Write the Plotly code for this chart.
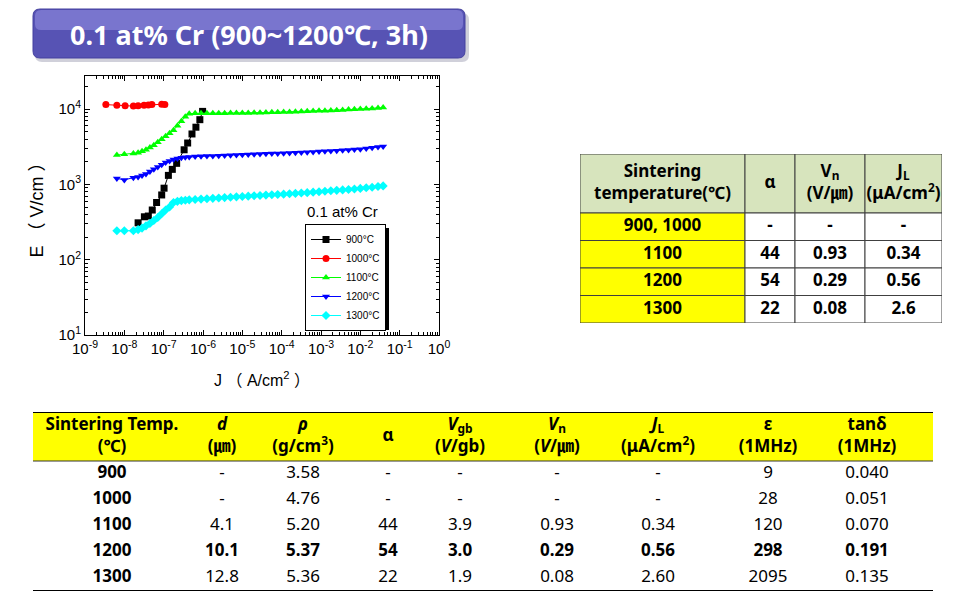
import plotly.graph_objects as go

# ---- E-J data (log10 values) ----
logj_900 = [-7.65, -7.49, -7.39, -7.29, -7.18, -7.05, -6.99, -6.88, -6.78, -6.67,
            -6.48, -6.39, -6.28, -6.18, -6.08, -6.01]
loge_900 = [2.49, 2.57, 2.58, 2.66, 2.76, 2.86, 2.95, 3.12, 3.20, 3.28,
            3.46, 3.55, 3.67, 3.76, 3.86, 3.97]

logj_1000 = [-8.47, -8.19, -7.98, -7.77, -7.65, -7.50, -7.39, -7.30, -7.05, -6.97]
loge_1000 = [4.060, 4.050, 4.045, 4.040, 4.045, 4.050, 4.055, 4.060, 4.065, 4.060]

# shared current sweep for 1100 / 1200 / 1300 C
logj_sweep = [-8.19, -8.00,
              -7.77, -7.65, -7.55, -7.45, -7.35, -7.25, -7.15, -7.05, -6.95, -6.85,
              -6.75, -6.65, -6.55, -6.45, -6.35,
              -6.20, -6.05, -5.90, -5.75, -5.60, -5.45, -5.30, -5.15, -5.00, -4.85,
              -4.70, -4.55, -4.40, -4.25, -4.10, -3.95, -3.80, -3.65, -3.50, -3.35,
              -3.20, -3.05, -2.90, -2.75, -2.60, -2.45, -2.30, -2.15, -2.00, -1.85,
              -1.70, -1.55, -1.42]

loge_1100 = [3.39, 3.40,
             3.41, 3.42, 3.44, 3.46, 3.49, 3.52, 3.56, 3.60, 3.64, 3.68,
             3.72, 3.78, 3.84, 3.90, 3.94,
             3.945, 3.945, 3.945, 3.945, 3.945, 3.946, 3.947, 3.948, 3.949, 3.950,
             3.951, 3.953, 3.955, 3.957, 3.959, 3.961, 3.963, 3.966, 3.968, 3.971,
             3.974, 3.977, 3.980, 3.983, 3.986, 3.990, 3.994, 3.998, 4.002, 4.006,
             4.010, 4.015, 4.020]

loge_1200 = [3.08, 3.06,
             3.09, 3.10, 3.12, 3.14, 3.17, 3.20, 3.23, 3.26, 3.29, 3.31,
             3.33, 3.345, 3.355, 3.36, 3.365,
             3.370, 3.373, 3.376, 3.379, 3.382, 3.385, 3.388, 3.391, 3.394, 3.397,
             3.400, 3.403, 3.406, 3.409, 3.412, 3.415, 3.418, 3.421, 3.424, 3.428,
             3.432, 3.436, 3.440, 3.444, 3.448, 3.453, 3.458, 3.463, 3.468, 3.476,
             3.486, 3.497, 3.505]

loge_1300 = [2.385, 2.385,
             2.385, 2.40, 2.42, 2.45, 2.48, 2.52, 2.56, 2.61, 2.66, 2.70,
             2.76, 2.775, 2.785, 2.79, 2.795,
             2.800, 2.805, 2.810, 2.815, 2.820, 2.825, 2.830, 2.835, 2.840, 2.844,
             2.849, 2.853, 2.858, 2.862, 2.867, 2.871, 2.876, 2.881, 2.886, 2.891,
             2.897, 2.903, 2.909, 2.915, 2.921, 2.927, 2.933, 2.940, 2.947, 2.955,
             2.963, 2.972, 2.980]

series_names = ["900°C", "1000°C", "1100°C", "1200°C", "1300°C"]
series_logj = [logj_900, logj_1000, logj_sweep, logj_sweep, logj_sweep]
series_loge = [loge_900, loge_1000, loge_1100, loge_1200, loge_1300]
series_colors = ["#000000", "#FF0000", "#00FF00", "#0000FF", "#00FFFF"]
series_symbols = ["square", "circle", "triangle-up", "triangle-down", "diamond"]

x_tickvals = [1e-9, 1e-8, 1e-7, 1e-6, 1e-5, 1e-4, 1e-3, 1e-2, 1e-1, 1]
x_ticktext = ["10<sup>-9</sup>", "10<sup>-8</sup>", "10<sup>-7</sup>", "10<sup>-6</sup>",
              "10<sup>-5</sup>", "10<sup>-4</sup>", "10<sup>-3</sup>", "10<sup>-2</sup>",
              "10<sup>-1</sup>", "10<sup>0</sup>"]
y_tickvals = [10, 100, 1000, 10000]
y_ticktext = ["10<sup>1</sup>", "10<sup>2</sup>", "10<sup>3</sup>", "10<sup>4</sup>"]

# ---- small table (right) ----
small_header = ["Sintering<br>temperature(℃)", "α", "V<sub>n</sub><br>(V/㎛)",
                "J<sub>L</sub><br>(μA/cm<sup>2</sup>)"]
small_temp = ["900, 1000", "1100", "1200", "1300"]
small_alpha = ["-", "44", "54", "22"]
small_vn = ["-", "0.93", "0.29", "0.08"]
small_jl = ["-", "0.34", "0.56", "2.6"]
small_col_w = [165, 50, 70, 77]
small_row_h = [59, 27.5, 27.5, 27.5, 27.5]

# ---- big table (bottom) ----
big_header = ["Sintering Temp.<br>(℃)", "<i>d</i><br>(㎛)", "<i>ρ</i><br>(g/cm<sup>3</sup>)",
              "α", "<i>V</i><sub>gb</sub><br>(<i>V</i>/gb)", "<i>V</i><sub>n</sub><br>(<i>V</i>/㎛)",
              "<i>J</i><sub>L</sub><br>(μA/cm<sup>2</sup>)", "ε<br>(1MHz)", "tanδ<br>(1MHz)"]
big_temp = ["900", "1000", "1100", "1200", "1300"]
big_d = ["-", "-", "4.1", "10.1", "12.8"]
big_rho = ["3.58", "4.76", "5.20", "5.37", "5.36"]
big_alpha = ["-", "-", "44", "54", "22"]
big_vgb = ["-", "-", "3.9", "3.0", "1.9"]
big_vn = ["-", "-", "0.93", "0.29", "0.08"]
big_jl = ["-", "-", "0.34", "0.56", "2.60"]
big_eps = ["9", "28", "120", "298", "2095"]
big_tand = ["0.040", "0.051", "0.070", "0.191", "0.135"]
bold_row = "1200"
big_col_w = [158, 62, 100, 70, 74, 120, 82, 138, 60, 36]
big_row_h = [49, 26, 26, 26, 26, 26]

# the page body keeps its default 8px margin, so the figure sits at (8, 8)
PAGE_OFF = 8
W, H = 960 - PAGE_OFF, 601 - PAGE_OFF
FONT_T = "Noto Sans, Noto Sans CJK KR"
FONT_P = "Liberation Sans, Arial, Noto Sans CJK KR"


def px(x):
    return (x - PAGE_OFF) / W


def py(y):
    return 1 - (y - PAGE_OFF) / H


def edges(sizes):
    out = [0]
    for s in sizes:
        out.append(out[-1] + s)
    return out


def rounded_rect(x0, y0, x1, y1, r):
    rx, ry = r / W, r / H
    a, b, c, d = px(x0), py(y1), px(x1), py(y0)
    return (f"M{a+rx},{b} L{c-rx},{b} Q{c},{b} {c},{b+ry} L{c},{d-ry} Q{c},{d} {c-rx},{d} "
            f"L{a+rx},{d} Q{a},{d} {a},{d-ry} L{a},{b+ry} Q{a},{b} {a+rx},{b} Z")


fig = go.Figure()

for name, lj, le, col, sym in zip(series_names, series_logj, series_loge,
                                  series_colors, series_symbols):
    fig.add_trace(go.Scatter(
        x=[10 ** v for v in lj], y=[10 ** v for v in le],
        mode="lines+markers", name=name,
        line=dict(color=col, width=1),
        marker=dict(symbol=sym, size=7, color=col),
    ))

shapes = []

# ---- right table on its own hidden axes (x2/y2) ----
sx = edges(small_col_w)
sy = edges(small_row_h)
for r in range(len(small_row_h)):
    for c in range(len(small_col_w)):
        if r == 0:
            fill = "#D7E4BD"
        elif c == 0:
            fill = "#FFFF00"
        else:
            fill = "white"
        shapes.append(dict(type="rect", xref="x2", yref="y2", x0=sx[c], x1=sx[c + 1],
                           y0=sy[r], y1=sy[r + 1], fillcolor=fill,
                           line=dict(color="#404040", width=1), layer="below"))

small_cols = [small_temp, small_alpha, small_vn, small_jl]
tx, ty, tt = [], [], []
for c in range(len(small_col_w)):
    cx = (sx[c] + sx[c + 1]) / 2
    tx.append(cx)
    ty.append((sy[0] + sy[1]) / 2)
    tt.append(f"<b>{small_header[c]}</b>")
    for r, v in enumerate(small_cols[c]):
        tx.append(cx)
        ty.append((sy[r + 1] + sy[r + 2]) / 2)
        tt.append(f"<b>{v}</b>")
fig.add_trace(go.Scatter(x=tx, y=ty, text=tt, mode="text", xaxis="x2", yaxis="y2",
                         textposition="middle center", showlegend=False, hoverinfo="skip",
                         cliponaxis=False,
                         textfont=dict(family=FONT_T, size=17, color="black")))

# ---- bottom table on hidden axes (x3/y3) ----
bx = edges(big_col_w)
by = edges(big_row_h)
shapes.append(dict(type="rect", xref="x3", yref="y3", x0=bx[0], x1=bx[-1],
                   y0=by[0], y1=by[1], fillcolor="#FFFF00", line=dict(width=0),
                   layer="below"))
for yv, wd, colr in [(by[0], 2, "black"), (by[1], 1, "#333333"), (by[-1], 2, "black")]:
    shapes.append(dict(type="line", xref="x3", yref="y3", x0=bx[0], x1=bx[-1],
                       y0=yv, y1=yv, line=dict(color=colr, width=wd)))

big_cols = [big_temp, big_d, big_rho, big_alpha, big_vgb, big_vn, big_jl, big_eps, big_tand]
tx, ty, tt = [], [], []
for c, col in enumerate(big_cols):
    cx = (bx[c] + bx[c + 1]) / 2
    tx.append(cx)
    ty.append((by[0] + by[1]) / 2)
    tt.append(f"<b>{big_header[c]}</b>")
    for r, v in enumerate(col):
        tx.append(cx)
        ty.append((by[r + 1] + by[r + 2]) / 2)
        bold = c == 0 or big_temp[r] == bold_row
        tt.append(f"<b>{v}</b>" if bold else v)
fig.add_trace(go.Scatter(x=tx, y=ty, text=tt, mode="text", xaxis="x3", yaxis="y3",
                         textposition="middle center", showlegend=False, hoverinfo="skip",
                         cliponaxis=False,
                         textfont=dict(family=FONT_T, size=17, color="black")))

shapes += [
    # banner shadow, body, highlight
    dict(type="path", xref="paper", yref="paper", path=rounded_rect(35, 13, 469, 62, 7),
         fillcolor="rgba(120,120,150,0.35)", line=dict(width=0), layer="below"),
    dict(type="path", xref="paper", yref="paper", path=rounded_rect(33, 9, 465, 58, 7),
         fillcolor="#5753B4", line=dict(color="#45419F", width=1), layer="below"),
    dict(type="path", xref="paper", yref="paper", path=rounded_rect(35, 10, 463, 30, 6),
         fillcolor="rgba(150,146,228,0.55)", line=dict(width=0), layer="below"),
    # legend drop shadow
    dict(type="rect", xref="paper", yref="paper", x0=px(309), x1=px(389),
         y0=py(330), y1=py(228), fillcolor="black", line=dict(width=0)),
]

annotations = [
    dict(text="<b>0.1 at% Cr (900~1200℃, 3h)</b>", x=px(249), y=py(34), xref="paper",
         yref="paper", showarrow=False, xanchor="center", yanchor="middle",
         font=dict(family=FONT_T, size=27, color="white")),
    dict(text="0.1 at% Cr", x=px(342), y=py(211), xref="paper", yref="paper",
         showarrow=False, xanchor="center", yanchor="middle",
         font=dict(family=FONT_P, size=15, color="black")),
]

axis_common = dict(
    type="log", tickmode="array", automargin=False,
    ticks="inside", ticklen=5, tickcolor="black", showline=True, linecolor="black",
    linewidth=1, mirror="allticks", showgrid=False, zeroline=False,
    tickfont=dict(family=FONT_P, size=15, color="black"),
    minor=dict(ticks="inside", ticklen=3, tickcolor="black", dtick="D1", showgrid=False),
)
hidden = dict(visible=False, showgrid=False, zeroline=False, fixedrange=True,
              automargin=False)

fig.update_layout(
    width=W, height=H,
    margin=dict(l=0, r=0, t=0, b=0, autoexpand=False),
    paper_bgcolor="white", plot_bgcolor="white",
    xaxis=dict(axis_common, range=[-9, 0], domain=[px(85), px(439)],
               tickvals=x_tickvals, ticktext=x_ticktext,
               title=dict(text="J （ A/cm<sup>2</sup> ）", standoff=18,
                          font=dict(family=FONT_P, size=16, color="black"))),
    yaxis=dict(axis_common, range=[1, 4.44], domain=[py(335), py(76)],
               tickvals=y_tickvals, ticktext=y_ticktext,
               title=dict(text="E （ V/cm ）", standoff=10,
                          font=dict(family=FONT_P, size=18, color="black"))),
    xaxis2=dict(hidden, domain=[px(580), px(942)], range=[0, sx[-1]], anchor="y2"),
    yaxis2=dict(hidden, domain=[py(154 + sy[-1]), py(154)], range=[sy[-1], 0], anchor="x2"),
    xaxis3=dict(hidden, domain=[px(33), px(933)], range=[0, bx[-1]], anchor="y3"),
    yaxis3=dict(hidden, domain=[py(412 + by[-1]), py(412)], range=[by[-1], 0], anchor="x3"),
    legend=dict(x=px(305), y=py(224), xanchor="left", yanchor="top",
                bgcolor="white", bordercolor="black", borderwidth=1,
                font=dict(family=FONT_P, size=10, color="black"),
                tracegroupgap=0, itemwidth=30),
    shapes=shapes,
    annotations=annotations,
)

fig.write_html("out.html")
